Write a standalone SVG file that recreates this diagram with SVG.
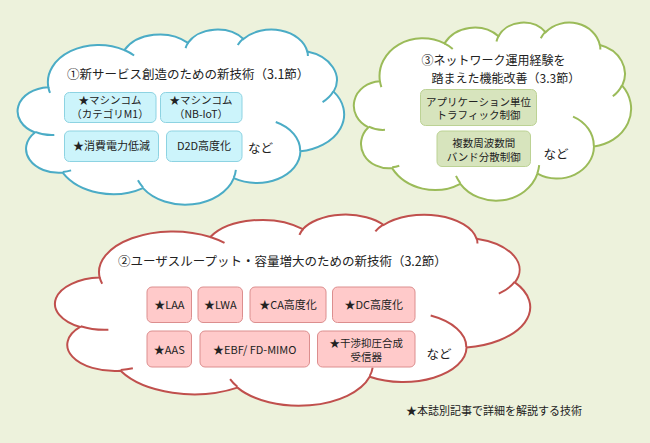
<svg xmlns="http://www.w3.org/2000/svg" xmlns:xlink="http://www.w3.org/1999/xlink" width="650" height="443" viewBox="0 0 650 443">
<style>
text{font-family:"Noto Sans CJK JP","Noto Sans",sans-serif;fill:#222;}
.t{font-size:12.5px;}
.t2{font-size:12px;}
.b{font-size:11px;text-anchor:middle;}
.b2{font-size:10.5px;text-anchor:middle;}
.n{font-size:12.5px;}
.cb{fill:#ccf4fb;stroke:#8dd3e2;stroke-width:1;}
.cg{fill:#d7e4bd;stroke:#bcd294;stroke-width:1;}
.cr{fill:#ffcaca;stroke:#dc8e8e;stroke-width:1;}
.co{fill:#fff;stroke-width:2;}
.ci{fill:none;stroke-width:2;}
</style>
<defs>
<path id="cloudOutline" vector-effect="non-scaling-stroke" d="M3900 14370 A6753 9190 0 0 1 14005 5202 A5333 7267 0 0 1 22456 3433 A4365 5945 0 0 1 29833 2482 A4857 6595 0 0 1 38318 5577 A5333 7273 0 0 1 41818 15461 A6775 9220 0 0 1 37404 30205 A5785 7867 0 0 1 28557 36815 A6752 9215 0 0 1 16481 39266 A7720 10543 0 0 1 5805 35473 A4360 5918 0 0 1 2114 25551 A4345 5945 0 0 1 3900 14370 Z"/>
<path id="cloudInner" vector-effect="non-scaling-stroke" d="M4693 26177 A4345 5945 0 0 1 2159 25380 M6928 34899 A4360 5918 0 0 1 5820 35280 M16478 39090 A6752 9215 0 0 1 15810 37349 M28827 34751 A6752 9215 0 0 1 28560 36660 M34129 22954 A5785 7867 0 0 1 37381 30090 M41798 15354 A5333 7273 0 0 1 40350 18029 M38324 5426 A4857 6595 0 0 1 38400 6690 M29078 3952 A4857 6595 0 0 1 29820 2340 M22141 4720 A4365 5945 0 0 1 22500 3330 M14000 5192 A6753 9190 0 0 1 15300 6541 M4127 15789 A6753 9190 0 0 1 3900 14370"/>
</defs>
<rect x="0" y="0" width="650" height="443" fill="#edf2dc"/>
<g id="connectors"></g>

<g id="cloud-new-service">
<use xlink:href="#cloudOutline" href="#cloudOutline" class="co" stroke="#4bacc6" transform="translate(19,29) scale(0.0075231,0.0040509)"/>
<use xlink:href="#cloudInner" href="#cloudInner" class="ci" stroke="#4bacc6" transform="translate(19,29) scale(0.0075231,0.0040509)"/>
<text class="t" x="67" y="79">①新サービス創造のための新技術（3.1節）</text>
<text class="n" x="248" y="153">など</text>
</g>
<g id="box-machinecom-m1">
<rect class="cb" x="64.5" y="92.5" width="91.5" height="30" rx="5"/>
<text class="b2" x="110" y="104">★マシンコム</text>
<text class="b2" x="110" y="117.5">（カテゴリM1）</text>
</g>
<g id="box-machinecom-nbiot">
<rect class="cb" x="160.5" y="92.5" width="81.5" height="30" rx="5"/>
<text class="b2" x="201" y="104">★マシンコム</text>
<text class="b2" x="201" y="117.5">（NB-IoT）</text>
</g>
<g id="box-power">
<rect class="cb" x="64.5" y="131" width="94" height="30.5" rx="5"/>
<text class="b" x="111.5" y="150">★消費電力低減</text>
</g>
<g id="box-d2d">
<rect class="cb" x="166.5" y="131" width="75.5" height="30.5" rx="5"/>
<text class="b" x="204" y="150">D2D高度化</text>
</g>

<g id="cloud-network">
<use xlink:href="#cloudOutline" href="#cloudOutline" class="co" stroke="#9bbb59" transform="translate(355,22) scale(0.0063889,0.0041204)"/>
<use xlink:href="#cloudInner" href="#cloudInner" class="ci" stroke="#9bbb59" transform="translate(355,22) scale(0.0063889,0.0041204)"/>
<text class="t2" x="421.5" y="65">③ネットワーク運用経験を</text>
<text class="t2" x="431.5" y="82.5">踏まえた機能改善（3.3節）</text>
<text class="n" x="543.5" y="158.5">など</text>
</g>
<g id="box-app-traffic">
<rect class="cg" x="420.5" y="89.5" width="116" height="36" rx="5"/>
<text class="b2" x="478.5" y="105.5">アプリケーション単位</text>
<text class="b2" x="478.5" y="119">トラフィック制御</text>
</g>
<g id="box-band">
<rect class="cg" x="437" y="131" width="93.5" height="35.5" rx="5"/>
<text class="b2" x="483.7" y="147">複数周波数間</text>
<text class="b2" x="483.7" y="160.5">バンド分散制御</text>
</g>

<g id="cloud-throughput">
<use xlink:href="#cloudOutline" href="#cloudOutline" class="co" stroke="#c0504d" transform="translate(57,214) scale(0.0109491,0.0044213)"/>
<use xlink:href="#cloudInner" href="#cloudInner" class="ci" stroke="#c0504d" transform="translate(57,214) scale(0.0109491,0.0044213)"/>
<text class="t" x="118" y="265.5">②ユーザスループット・容量増大のための新技術（3.2節）</text>
<text class="n" x="426.5" y="358.5">など</text>
</g>
<g id="box-laa">
<rect class="cr" x="147" y="287" width="44.5" height="35.5" rx="5"/>
<text class="b" x="169.3" y="309">★LAA</text>
</g>
<g id="box-lwa">
<rect class="cr" x="198" y="287" width="44.5" height="35.5" rx="5"/>
<text class="b" x="220.3" y="309">★LWA</text>
</g>
<g id="box-ca">
<rect class="cr" x="250" y="287" width="76" height="35.5" rx="5"/>
<text class="b" x="288" y="309">★CA高度化</text>
</g>
<g id="box-dc">
<rect class="cr" x="332.5" y="287" width="82.5" height="35.5" rx="5"/>
<text class="b" x="373.7" y="309">★DC高度化</text>
</g>
<g id="box-aas">
<rect class="cr" x="147" y="331" width="44.5" height="36" rx="5"/>
<text class="b" x="169.3" y="354">★AAS</text>
</g>
<g id="box-ebf">
<rect class="cr" x="200" y="331" width="109.5" height="36" rx="5"/>
<text class="b" x="254.7" y="354">★EBF/ FD-MIMO</text>
</g>
<g id="box-irc">
<rect class="cr" x="317.5" y="331" width="97.5" height="36" rx="5"/>
<text class="b2" x="366.2" y="347">★干渉抑圧合成</text>
<text class="b2" x="366.2" y="360.5">受信器</text>
</g>

<g id="footnote">
<text x="406" y="415" style="font-size:11px">★本誌別記事で詳細を解説する技術</text>
</g>
</svg>
